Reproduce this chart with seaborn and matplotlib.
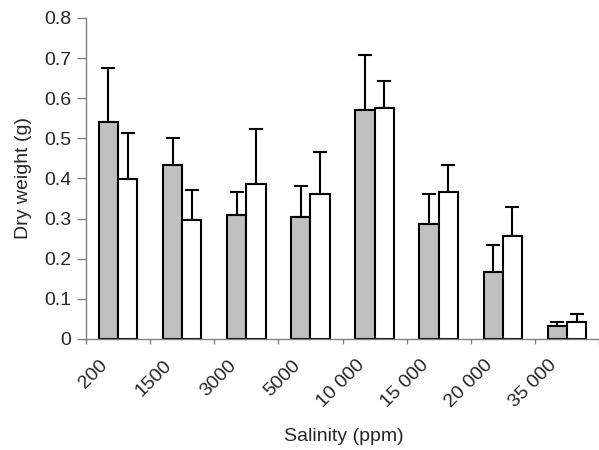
import matplotlib
matplotlib.use("Agg")
import matplotlib.pyplot as plt
import matplotlib.transforms as mtransforms
import seaborn as sns
import pandas as pd
import numpy as np

salinity = ["200", "1500", "3000", "5000", "10 000", "15 000", "20 000", "35 000"]
series_names = ["Series 1", "Series 2"]
gray_values = [0.542, 0.434, 0.309, 0.304, 0.571, 0.286, 0.166, 0.033]
gray_errors = [0.133, 0.066, 0.057, 0.077, 0.138, 0.076, 0.067, 0.009]
white_values = [0.399, 0.296, 0.387, 0.362, 0.575, 0.366, 0.257, 0.043]
white_errors = [0.114, 0.075, 0.136, 0.104, 0.068, 0.068, 0.072, 0.019]

df = pd.DataFrame({
    "Salinity": salinity * 2,
    "Series": [series_names[0]] * len(salinity) + [series_names[1]] * len(salinity),
    "Dry weight": gray_values + white_values,
})

sns.set_style("white")
plt.rcParams["font.family"] = ["Liberation Sans", "DejaVu Sans"]

fig = plt.figure(figsize=(5.99, 4.5), dpi=100)
ax = fig.add_axes([0.1436, 0.2467, 0.8564, 0.7133])

sns.barplot(data=df, x="Salinity", y="Dry weight", hue="Series",
            palette=["#c0c0c0", "#ffffff"], width=0.6, errorbar=None,
            edgecolor="black", linewidth=1.5, legend=False, ax=ax, zorder=2)

errs = {series_names[0]: gray_errors, series_names[1]: white_errors}
for container, name in zip(ax.containers, series_names):
    xs = [p.get_x() + p.get_width() / 2 for p in container.patches]
    ys = [p.get_height() for p in container.patches]
    e = errs[name]
    ax.errorbar(xs, ys, yerr=[np.zeros(len(e)), e], fmt="none", ecolor="black",
                elinewidth=1.5, capsize=4.8, capthick=1.5, zorder=1)

fs = 14
ax.set_ylim(0, 0.8)
ax.set_xlim(-0.5, len(salinity) - 0.5)
ax.set_yticks(np.arange(0, 0.81, 0.1))
ax.set_yticklabels(["0"] + [f"{v:.1f}" for v in np.arange(0.1, 0.81, 0.1)])
ax.set_xticks(range(len(salinity)))
ax.set_xticks(np.arange(-0.5, len(salinity) - 0.4, 1), minor=True)
ax.tick_params(axis="x", which="major", length=0, pad=0, labelsize=fs)
ax.tick_params(axis="x", which="minor", length=3.6, width=1, color="#808080", direction="out", bottom=True)
ax.tick_params(axis="y", length=6.5, width=1, color="#808080", direction="out", left=True, labelsize=fs, pad=4)
ax.set_xticklabels(salinity, rotation=45, ha="right", va="center", rotation_mode="anchor")
offset = mtransforms.ScaledTranslation(-13 / 100, -24 / 100, fig.dpi_scale_trans)
for lab in ax.get_xticklabels():
    lab.set_transform(lab.get_transform() + offset)

for s in ["top", "right"]:
    ax.spines[s].set_visible(False)
for s in ["left", "bottom"]:
    ax.spines[s].set_color("#808080")
    ax.spines[s].set_linewidth(1)

ax.set_xlabel("Salinity (ppm)", fontsize=fs)
ax.xaxis.set_label_coords(0.502, -0.277)
ax.set_ylabel("Dry weight (g)", fontsize=fs)
ax.yaxis.set_label_coords(-0.105, 0.5)

fig.savefig("out.png", dpi=100)
